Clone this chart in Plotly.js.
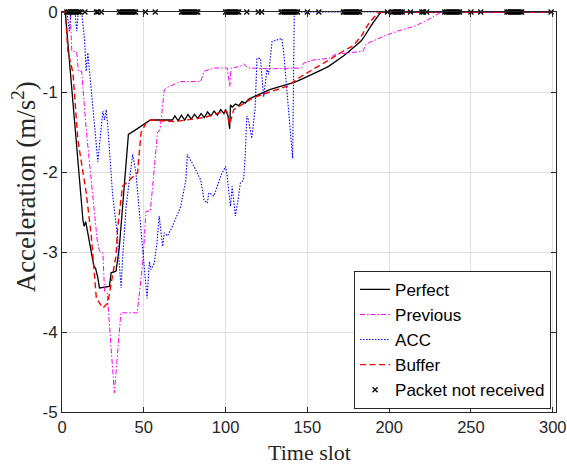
<!DOCTYPE html>
<html>
<head>
<meta charset="utf-8">
<script src="https://cdn.plot.ly/plotly-3.0.1.min.js"></script>
<style>html,body{margin:0;padding:0;background:#fff;}#chart{width:567px;height:466px;}</style>
</head>
<body>
<div id="chart"></div>
<script>
// ---- data ----
const perfectX = [0, 2, 12.8, 13.5, 14.5, 16, 17.9, 19.5, 20.5, 21.9, 22.9, 26, 29, 30, 32, 33, 34, 35, 36, 40.6, 45.2, 54, 67.5,
  69, 71, 73, 75, 77, 79, 81, 83, 85, 87, 89, 91, 93, 95, 97, 99, 100, 101.5, 102.5, 103, 104, 106, 108, 110, 112, 114, 117,
  120, 124, 127, 132, 137.5, 142, 146.6, 151, 156, 160, 163, 166, 169, 172, 175, 178, 181, 183, 185, 187, 189, 191, 193, 195, 300];
const perfectY = [0, 0, -2.6, -2.68, -2.62, -2.8, -3.01, -3.18, -3.2, -3.32, -3.45, -3.44, -3.43, -3.26, -3.24, -3.24, -3.1, -2.95, -2.7, -1.53, -1.47, -1.35, -1.35,
  -1.30, -1.36, -1.29, -1.35, -1.28, -1.34, -1.28, -1.33, -1.27, -1.32, -1.25, -1.30, -1.24, -1.29, -1.22, -1.27, -1.22, -1.30, -1.46, -1.16, -1.19, -1.15, -1.17, -1.12, -1.14, -1.09, -1.06,
  -1.04, -1.0, -0.97, -0.94, -0.91, -0.88, -0.84, -0.8, -0.75, -0.71, -0.68, -0.64, -0.59, -0.55, -0.5, -0.45, -0.4, -0.36, -0.3, -0.23, -0.17, -0.11, -0.06, 0, 0];

const previousX = [0, 5, 6, 9, 10, 12, 14.8, 17.9, 19.9, 21.5, 22.9, 25, 26, 27.6, 32, 36, 46, 49.3, 50.3, 51.3, 54, 58.4, 60, 62.5, 65.5, 72.6, 84.8, 86.8, 92.9,
  101, 102, 102.6, 103.4, 109, 111, 114, 127, 137.5, 146.5, 147.6, 153.7, 163, 167, 184, 186, 197, 205, 215, 221.6, 232, 300];
const previousY = [0, 0, -0.49, -0.5, -0.74, -0.74, -1.47, -2.1, -2.55, -2.85, -2.99, -3.01, -3.49, -3.51, -4.76, -3.76, -3.76, -3.14, -2.85, -2.49, -2.49, -1.51, -1.47, -0.97, -0.93, -0.87, -0.87, -0.74, -0.7,
  -0.7, -0.85, -0.93, -0.7, -0.68, -0.65, -0.7, -0.71, -0.7, -0.7, -0.64, -0.6, -0.58, -0.53, -0.49, -0.4, -0.3, -0.24, -0.18, -0.12, 0, 0];

const accX = [0, 3, 4.5, 5.5, 8, 9, 10, 12, 13.8, 14.8, 15.8, 16.8, 21.9, 25, 26, 27, 28, 31, 33.7, 36.1, 37, 39.2, 43.2, 45.2, 48.7, 52, 53.4, 54.4, 56.4, 58,
  59.4, 60.5, 61.5, 62.5, 64.5, 67.5, 72.6, 75.7, 76.6, 80.7, 84.8, 86.8, 88.8, 89.8, 92.9, 94.9, 97, 100, 101, 102, 103, 104, 106, 108, 109, 111, 112, 113,
  114, 116, 118, 119.2, 121.3, 123.3, 125.3, 126.3, 127.4, 128.4, 134.4, 135.5, 141, 142, 300];
const accY = [0, 0, -0.24, 0, 0, -0.24, 0, 0, -0.35, -0.74, -0.51, -0.74, -1.87, -1.24, -1.35, -1.22, -1.43, -2.3, -2.76, -3.45, -3.1, -2.43, -1.78, -2.01, -2.85, -3.58, -3.12, -3.22, -3.14, -2.9,
  -2.55, -2.76, -2.93, -2.76, -2.8, -2.68, -2.43, -2.1, -1.78, -1.93, -2.1, -2.35, -2.39, -2.26, -2.3, -2.18, -2.05, -1.93, -2.05, -2.26, -2.43, -2.18, -2.55, -2.3, -2.14, -2.1, -1.8, -1.3,
  -1.35, -1.58, -1.22, -0.58, -0.58, -1.06, -0.72, -0.78, -0.55, -0.37, -0.33, -0.5, -1.83, 0, 0];

const bufferX = [0, 2, 3.6, 6.7, 9.7, 14.8, 17.9, 21, 25, 28, 31, 33, 34, 37, 41.2, 46.2, 48.3, 51.3, 54.4, 68.6, 86.8, 99, 101, 102.4, 105, 117, 127,
  137.5, 146.6, 156.8, 164.8, 171, 178, 183, 187, 191, 194, 300];
const bufferY = [0, 0, -0.49, -0.76, -1.6, -2.26, -2.8, -3.58, -3.7, -3.64, -3.28, -3.05, -2.7, -2.18, -2.1, -2.01, -1.51, -1.39, -1.35, -1.37, -1.32, -1.24, -1.25, -1.41, -1.22, -1.07, -1.0,
  -0.93, -0.8, -0.68, -0.58, -0.5, -0.42, -0.3, -0.16, -0.06, 0, 0];

const lostSlots = [3, 4, 5, 6, 7, 8, 9, 10, 11, 14, 21, 22, 24, 35, 36, 37, 38, 39, 40, 41, 42, 43, 44, 45, 51, 57,
  73, 74, 75, 76, 77, 78, 79, 80, 81, 82, 83, 100, 101, 102, 103, 104, 105, 106, 107, 108, 113, 120, 122,
  134, 135, 136, 137, 138, 139, 140, 141, 142, 143, 144, 150, 157, 172, 173, 174, 175, 176, 177, 178, 179, 180, 181, 182,
  199, 202, 203, 204, 205, 206, 207, 208, 213, 220, 221, 223, 234, 235, 236, 237, 238, 239, 240, 241, 242, 243, 250, 256,
  272, 273, 274, 275, 276, 277, 278, 279, 280, 281, 299];
const lostValue = lostSlots.map(() => 0);

const seriesNames = ['Perfect', 'Previous', 'ACC', 'Buffer', 'Packet not received'];
const xTickVals = [0, 50, 100, 150, 200, 250, 300];
const xTickText = ['0', '50', '100', '150', '200', '250', '300'];
const yTickVals = [-5, -4, -3, -2, -1, 0];
const yTickText = ['-5', '-4', '-3', '-2', '-1', '0'];

// ---- drawing ----
const traces = [
  {x: perfectX, y: perfectY, name: seriesNames[0], mode: 'lines', line: {color: '#000000', width: 1.3}, cliponaxis: false},
  {x: previousX, y: previousY, name: seriesNames[1], mode: 'lines', line: {color: '#ff00ff', width: 1, dash: '5px,2px,1.5px,2px'}, cliponaxis: false},
  {x: accX, y: accY, name: seriesNames[2], mode: 'lines', line: {color: '#0000ff', width: 1.1, dash: '1.5px,1.5px'}, cliponaxis: false},
  {x: bufferX, y: bufferY, name: seriesNames[3], mode: 'lines', line: {color: '#ff0000', width: 1.4, dash: '6px,3.5px'}, cliponaxis: false},
  {x: lostSlots, y: lostValue, name: seriesNames[4], mode: 'markers', marker: {symbol: 'x-thin-open', size: 5, color: '#000000', line: {width: 1.3, color: '#000000'}}, cliponaxis: false}
];

const axisCommon = {
  showline: true, linecolor: '#262626', linewidth: 1, mirror: 'ticks',
  ticks: 'inside', ticklen: 5, tickcolor: '#262626', tickwidth: 1,
  showgrid: true, gridcolor: '#e0e0e0', gridwidth: 1, zeroline: false,
  tickfont: {family: 'Liberation Sans, Arial, sans-serif', size: 17, color: '#262626'}
};

const layout = {
  width: 567, height: 466,
  margin: {l: 62, r: 11, t: 12, b: 54, pad: 0},
  paper_bgcolor: '#ffffff', plot_bgcolor: '#ffffff',
  showlegend: true,
  xaxis: Object.assign({}, axisCommon, {range: [0, 302], tickmode: 'array', tickvals: xTickVals, ticktext: xTickText,
    ticklabeloverflow: 'allow', ticklabelshift: -1.5,
    tickfont: {family: 'Liberation Sans, Arial, sans-serif', size: 16.5, color: '#262626'}}),
  yaxis: Object.assign({}, axisCommon, {range: [-5, 0], tickmode: 'array', tickvals: yTickVals, ticktext: yTickText}),
  legend: {
    x: 0.99, xanchor: 'right', y: 0.008, yanchor: 'bottom',
    bgcolor: '#ffffff', bordercolor: '#262626', borderwidth: 1,
    font: {family: 'Liberation Sans, Arial, sans-serif', size: 17, color: '#000000'},
    tracegroupgap: 0, itemwidth: 30, entrywidth: 180, entrywidthmode: 'pixels'
  },
  annotations: [
    {text: 'Time slot', xref: 'paper', yref: 'paper', x: 0.5, y: -0.1, xanchor: 'center', yanchor: 'middle', showarrow: false,
     font: {family: 'Liberation Serif, Times New Roman, serif', size: 22, color: '#262626'}},
    {text: 'Acceleration (m/s<sup>2</sup>)', xref: 'paper', yref: 'paper', x: -0.077, y: 0.564, xanchor: 'center', yanchor: 'middle', showarrow: false, textangle: -90,
     font: {family: 'Liberation Serif, Times New Roman, serif', size: 27, color: '#262626'}}
  ]
};

Plotly.newPlot('chart', traces, layout, {staticPlot: true, displayModeBar: false});
</script>
</body>
</html>
